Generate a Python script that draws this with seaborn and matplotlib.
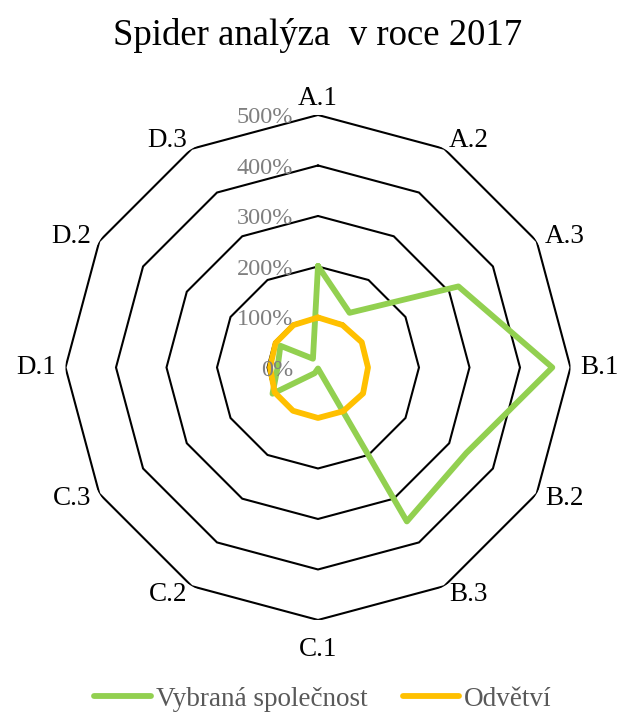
import numpy as np
import pandas as pd
import matplotlib
matplotlib.use("Agg")
import matplotlib.pyplot as plt
from matplotlib.transforms import offset_copy
from matplotlib.lines import Line2D
import seaborn as sns

# Categories (clockwise from the top)
categories = ["A.1", "A.2", "A.3", "B.1", "B.2", "B.3",
              "C.1", "C.2", "C.3", "D.1", "D.2", "D.3"]

# Values in percent
company = [201, 125, 321, 464, 339, 352, 2, 13, 104, 80, 86, 20]
industry = [99, 97, 100, 99, 103, 100, 100, 99, 99, 95, 97, 97]

series_names = ["Vybraná společnost", "Odvětví"]
series_colors = ["#92D050", "#FFC000"]

ring_levels = [100, 200, 300, 400, 500]
tick_levels = [0, 100, 200, 300, 400, 500]
tick_labels = ["0%", "100%", "200%", "300%", "400%", "500%"]

title = "Spider analýza  v roce 2017"

sns.set_style("white")
plt.rcParams["font.family"] = ["Liberation Serif", "DejaVu Serif"]

n = len(categories)
theta = np.linspace(0, 2 * np.pi, n, endpoint=False)
theta_closed = np.append(theta, 2 * np.pi)

rows = []
for name, vals in zip(series_names, [company, industry]):
    closed = list(vals) + [vals[0]]
    for t, v in zip(theta_closed, closed):
        rows.append({"theta": t, "value": v, "series": name})
df = pd.DataFrame(rows)

fig = plt.figure(figsize=(6.22, 7.15), dpi=100)
ax = fig.add_axes([0.1053, 0.1329, 0.8119, 0.7063], projection="polar")
ax.set_theta_zero_location("N")
ax.set_theta_direction(-1)
ax.set_ylim(0, 500)
ax.grid(False)
ax.spines["polar"].set_visible(False)
ax.set_xticks([])
ax.set_yticks([])
ax.set_facecolor("none")

# Polygonal rings
for lvl in ring_levels:
    ax.plot(theta_closed, [lvl] * len(theta_closed), color="black",
            lw=1.5, zorder=1, solid_joinstyle="miter")

sns.lineplot(data=df, x="theta", y="value", hue="series",
             hue_order=series_names, palette=series_colors,
             sort=False, estimator=None, linewidth=4.2, legend=False,
             ax=ax, zorder=3, solid_joinstyle="round", solid_capstyle="round")
ax.set_xlabel("")
ax.set_ylabel("")

# Radial tick labels, to the left of the A.1 spoke
tick_tr = offset_copy(ax.transData, fig=fig, x=-25, y=-3, units="dots")
for lvl, lab in zip(tick_levels, tick_labels):
    ax.text(0, lvl, lab, transform=tick_tr, ha="right", va="center",
            fontsize=17.5, color="#7f7f7f", zorder=4)

# Category labels around the outer ring
r_lab = 519
for t, lab in zip(theta, categories):
    s, c = np.sin(t), np.cos(t)
    r = r_lab
    if abs(s) < 0.1:
        ha = "center"
    elif s > 0:
        ha = "left"
    else:
        ha = "right"
    if c > 0.9:
        va = "baseline"
    elif c < -0.9:
        va = "top"
        r = r_lab + 14
    else:
        va = "center"
    ax.text(t, r, lab, ha=ha, va=va, fontsize=19.5, color="black")

fig.text(318 / 622, 1 - 45 / 715, title, ha="center", va="baseline",
         fontsize=26.5, color="black")

handles = [Line2D([0], [0], color=c, lw=4.2, solid_capstyle="round")
           for c in series_colors]
leg = fig.legend(handles, series_names, loc="center",
                 bbox_to_anchor=(323 / 622, 1 - 699 / 715), ncol=2,
                 frameon=False, fontsize=19.5, handlelength=2.1,
                 handletextpad=0.18, columnspacing=1.3,
                 borderpad=0.1)
for txt in leg.get_texts():
    txt.set_color("#595959")

fig.savefig("out.png", dpi=100)
